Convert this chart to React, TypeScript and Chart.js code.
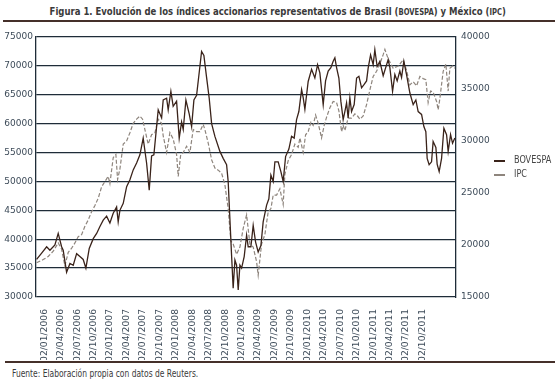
import React, { useEffect, useRef } from 'react';
import { Chart, registerables } from 'chart.js';

Chart.register(...registerables);

// x positions are months counted from 02/01/2006
const tickMonths = [0, 3, 6, 9, 12, 15, 18, 21, 24, 27, 30, 33, 36, 39, 42, 45, 48, 51, 54, 57, 60, 63, 66, 69];
const tickLabels = [
  '02/01/2006', '02/04/2006', '02/07/2006', '02/10/2006',
  '02/01/2007', '02/04/2007', '02/07/2007', '02/10/2007',
  '02/01/2008', '02/04/2008', '02/07/2008', '02/10/2008',
  '02/01/2009', '02/04/2009', '02/07/2009', '02/10/2009',
  '02/01/2010', '02/04/2010', '02/07/2010', '02/10/2010',
  '02/01/2011', '02/04/2011', '02/07/2011', '02/10/2011',
];

const bovespaMonths = [
  -1.39, -0.47, 0.44, 1.04, 1.95, 2.55, 3.17, 3.46, 4.08, 4.69,
  5.29, 5.91, 6.51, 7.11, 7.6, 8.21, 8.94, 9.56, 10.16, 10.76,
  11.38, 11.98, 12.58, 13.2, 13.49, 13.8, 14.41, 15.03, 15.63, 16.23,
  16.85, 17.45, 18.05, 18.67, 19.15, 19.58, 20, 20.79, 21.41, 21.7,
  22.32, 22.61, 23.1, 23.52, 24.14, 24.62, 25.05, 25.35, 25.84, 26.44,
  26.88, 27.3, 27.79, 28.39, 28.7, 29.12, 29.61, 30.09, 30.53, 31.13,
  32.04, 32.64, 33.26, 33.55, 33.86, 34.17, 34.46, 34.78, 35.08, 35.38,
  35.69, 36, 36.47, 36.91, 37.2, 37.69, 38.11, 38.55, 39.02, 39.52,
  39.93, 40.56, 40.97, 41.34, 41.76, 42.07, 42.67, 43.16, 43.58, 44.02,
  44.62, 45.11, 45.59, 46.02, 46.44, 46.94, 47.23, 47.54, 48.14, 48.76,
  49.36, 49.85, 50.27, 50.88, 51.31, 51.79, 52.28, 52.7, 53.01, 53.32,
  53.74, 54.1, 54.52, 54.83, 55.14, 55.43, 55.74, 56.05, 56.53, 56.97,
  57.39, 57.88, 58.35, 58.79, 59.08, 59.52, 59.99, 60.3, 60.72, 61.21,
  61.82, 62.73, 63.04, 63.53, 63.95, 64.37, 64.86, 65.17, 65.59, 66.08,
  66.69, 67.29, 67.78, 68.2, 68.82, 69.24, 69.6, 69.84, 70.2, 70.64,
  70.93, 71.43, 71.66, 72.03, 72.47, 72.89, 73.38, 73.67, 74.11, 74.47,
  74.89,
];
const bovespa = [
  36500, 37600, 38700, 38100, 39000, 41000, 38700, 38100, 34300, 35800,
  35500, 37500, 37000, 36500, 35000, 38400, 40100, 41000, 42200, 43300,
  44000, 42800, 44500, 45600, 43000, 45000, 46200, 49100, 50300, 52000,
  53200, 54600, 57500, 53200, 48500, 54400, 54600, 62400, 61000, 64100,
  64400, 62400, 65600, 63000, 63900, 57500, 60300, 59000, 64100, 61700,
  59500, 64100, 64900, 69900, 72500, 71800, 68000, 64400, 60000, 57800,
  55200, 54000, 52900, 50000, 43600, 37200, 31500, 36400, 35500, 31200,
  35500, 35000, 37000, 40700, 38700, 38700, 42400, 39500, 37800, 38900,
  43000, 45900, 47000, 51100, 50000, 53400, 53400, 51700, 50000, 54300,
  55600, 57800, 57500, 60700, 62100, 65900, 64500, 62500, 67300, 69400,
  67900, 70200, 68800, 63300, 67400, 69100, 69700, 70800, 71400, 69700,
  67900, 63900, 60700, 62100, 63600, 61000, 64500, 62100, 63300, 67900,
  68200, 66200, 66800, 67400, 69600, 71900, 70200, 72800, 69900, 70800,
  68300, 71100, 69700, 65600, 68500, 67400, 69100, 68000, 70800, 68500,
  65300, 63300, 64100, 62100, 61600, 59500, 58600, 54000, 52900, 53400,
  56900, 55900, 53000, 51700, 54000, 59200, 58100, 55200, 58100, 56600,
  57500,
];

const ipcMonths = [
  -1.39, -0.18, 0.73, 1.64, 2.55, 3.17, 3.77, 4.38, 5, 5.6,
  6.2, 6.82, 7.42, 8.02, 8.64, 9.25, 9.85, 10.47, 11.07, 11.67,
  11.98, 12.58, 13.07, 13.38, 13.8, 14.41, 15.03, 15.63, 16.23, 16.85,
  17.45, 17.94, 18.36, 18.96, 19.58, 20.19, 20.79, 21.41, 21.7, 22.32,
  22.92, 23.52, 24.14, 24.44, 24.87, 25.35, 25.97, 26.57, 27.17, 27.79,
  28.39, 28.99, 29.3, 29.91, 30.53, 31.13, 31.73, 32.35, 32.95, 33.55,
  34.04, 34.46, 35.08, 35.69, 36.29, 36.91, 37.51, 38.11, 38.73, 39.02,
  39.64, 40.24, 40.85, 41.34, 41.76, 42.38, 42.98, 43.58, 43.89, 44.49,
  45.11, 45.71, 46.32, 46.63, 47.23, 47.67, 48.14, 48.64, 49.05, 49.49,
  49.97, 50.58, 51.06, 51.5, 52.1, 52.7, 53.32, 53.74, 54.23, 54.52,
  54.83, 55.43, 56.05, 56.66, 57.15, 57.57, 58.17, 58.79, 59.39, 59.99,
  60.61, 61.21, 61.82, 62.13, 62.73, 63.64, 64.55, 65.47, 66.08, 66.69,
  67.29, 67.91, 68.51, 69.11, 69.6, 70.02, 70.46, 70.93, 71.56, 71.85,
  72.16, 72.76, 73.25, 73.67, 73.98, 74.47, 74.89,
];
const ipc = [
  18300, 18600, 18900, 19400, 20200, 19600, 18000, 19300, 19700, 20200,
  20800, 21000, 21800, 22400, 23200, 23800, 24500, 25600, 26100, 26600,
  25900, 28400, 28700, 26300, 27300, 29700, 30000, 30800, 31700, 32100,
  32400, 32100, 31100, 29700, 30600, 30800, 32100, 31700, 30500, 28900,
  30800, 30200, 28700, 26600, 28600, 28900, 29500, 28900, 31100, 30900,
  30900, 31600, 31100, 29800, 28200, 27400, 27200, 26900, 25800, 23500,
  20400, 20100, 19100, 19800, 21600, 22900, 20100, 19800, 18400, 17100,
  20100, 21000, 23200, 23500, 24800, 24800, 25400, 23900, 26800, 28100,
  28700, 29700, 29400, 30300, 28900, 30600, 30900, 31800, 31500, 32500,
  31700, 30300, 31500, 32300, 33200, 33800, 33700, 32900, 30900, 31500,
  31000, 32200, 32200, 32600, 32400, 32100, 32400, 33500, 34900, 36200,
  36700, 37400, 38300, 38800, 37900, 37000, 37200, 37800, 36800, 35400,
  35700, 35300, 36200, 36000, 35900, 33700, 34800, 34700, 33800, 33000,
  34100, 36700, 37400, 34800, 37000, 37200, 37000,
];

const AXIS = '#1f2c38';
const TICK = '#3d4b59';
const BOV_COLOR = '#3a231a';
const IPC_COLOR = '#8e857d';
const NARROW = '"DejaVu Sans Condensed", "DejaVu Sans", sans-serif';

export default function App() {
  const ref = useRef<HTMLCanvasElement>(null);

  useEffect(() => {
    if (!ref.current) return;
    const tickFont = { family: '"DejaVu Sans", sans-serif', size: 9 };
    const xFont = { family: '"DejaVu Sans", sans-serif', size: 9.2 };
    const plain = (v: any) => String(v);
    const chart = new Chart(ref.current, {
      type: 'line',
      data: {
        datasets: [
          {
            label: 'BOVESPA',
            data: bovespaMonths.map((m, i) => ({ x: m, y: bovespa[i] })),
            yAxisID: 'y',
            borderColor: BOV_COLOR,
            borderWidth: 1.3,
            pointRadius: 0,
            tension: 0,
          },
          {
            label: 'IPC',
            data: ipcMonths.map((m, i) => ({ x: m, y: ipc[i] })),
            yAxisID: 'y1',
            borderColor: IPC_COLOR,
            borderWidth: 1.2,
            borderDash: [4, 2],
            pointRadius: 0,
            tension: 0,
          },
        ],
      },
      options: {
        animation: false,
        responsive: false,
        maintainAspectRatio: false,
        layout: { padding: { top: 37, left: 0, right: 59, bottom: 0 } },
        plugins: { legend: { display: false }, tooltip: { enabled: false } },
        scales: {
          x: {
            type: 'linear',
            min: -1.5,
            max: 75.1,
            afterBuildTicks: (s: any) => {
              s.ticks = tickMonths.map((v) => ({ value: v }));
            },
            afterFit: (s: any) => {
              s.height = 63;
            },
            grid: { display: false },
            border: { display: false },
            ticks: {
              autoSkip: false,
              maxRotation: 90,
              minRotation: 90,
              padding: 4,
              font: xFont,
              color: TICK,
              callback: (_v: any, i: number) => tickLabels[i],
            },
          },
          y: {
            position: 'left',
            min: 30000,
            max: 75000,
            afterFit: (s: any) => {
              s.width = 36;
            },
            ticks: { stepSize: 5000, padding: 3, font: tickFont, color: TICK, callback: plain },
            grid: { color: AXIS, lineWidth: 1.3, drawTicks: false },
            border: { color: AXIS, width: 1.3 },
          },
          y1: {
            position: 'right',
            min: 15000,
            max: 40000,
            afterFit: (s: any) => {
              s.width = 40;
            },
            ticks: { stepSize: 5000, padding: 5, font: tickFont, color: TICK, callback: plain },
            grid: { drawOnChartArea: false, drawTicks: false },
            border: { color: AXIS, width: 1.3 },
          },
        },
      },
    });
    return () => chart.destroy();
  }, []);

  const small = { fontSize: '0.8em' };

  return (
    <div style={{ position: 'fixed', left: 0, top: 0, width: 555, height: 385, background: '#fff', overflow: 'hidden' }}>
      <div
        style={{
          position: 'absolute', left: 0, top: 5, width: 555, textAlign: 'center',
          fontFamily: NARROW, fontSize: 11, lineHeight: '13px', color: '#3a3a3a', fontWeight: 'bold', whiteSpace: 'nowrap',
          transform: 'scaleX(0.86)', transformOrigin: '279px 0',
        }}
      >
        Figura 1. Evolución de los índices accionarios representativos de Brasil (<span style={small}>BOVESPA</span>) y México (<span style={small}>IPC</span>)
      </div>
      <div style={{ position: 'absolute', left: 3, top: 20, width: 552, height: 2, background: '#45302a' }} />
      <canvas ref={ref} width={555} height={360} style={{ position: 'absolute', left: 0, top: 0, display: 'block' }} />
      <div style={{ position: 'absolute', left: 494, top: 160, width: 11, height: 1.5, background: BOV_COLOR }} />
      <div style={{ position: 'absolute', left: 514, top: 154, fontFamily: NARROW, fontSize: 10, lineHeight: '12px', color: '#444', transform: 'scaleX(0.9)', transformOrigin: '0 0' }}>BOVESPA</div>
      <div style={{ position: 'absolute', left: 494, top: 174, width: 11, height: 1.5, background: IPC_COLOR }} />
      <div style={{ position: 'absolute', left: 514, top: 168, fontFamily: NARROW, fontSize: 10, lineHeight: '12px', color: '#444', transform: 'scaleX(0.9)', transformOrigin: '0 0' }}>IPC</div>
      <div style={{ position: 'absolute', left: 5, top: 361, width: 550, height: 2, background: '#45302a' }} />
      <div style={{ position: 'absolute', left: 12, top: 368, fontFamily: NARROW, fontSize: 10, lineHeight: '12px', color: '#3a3a3a', whiteSpace: 'nowrap', transform: 'scaleX(0.84)', transformOrigin: '0 0' }}>
        Fuente: Elaboración propia con datos de Reuters.
      </div>
    </div>
  );
}
